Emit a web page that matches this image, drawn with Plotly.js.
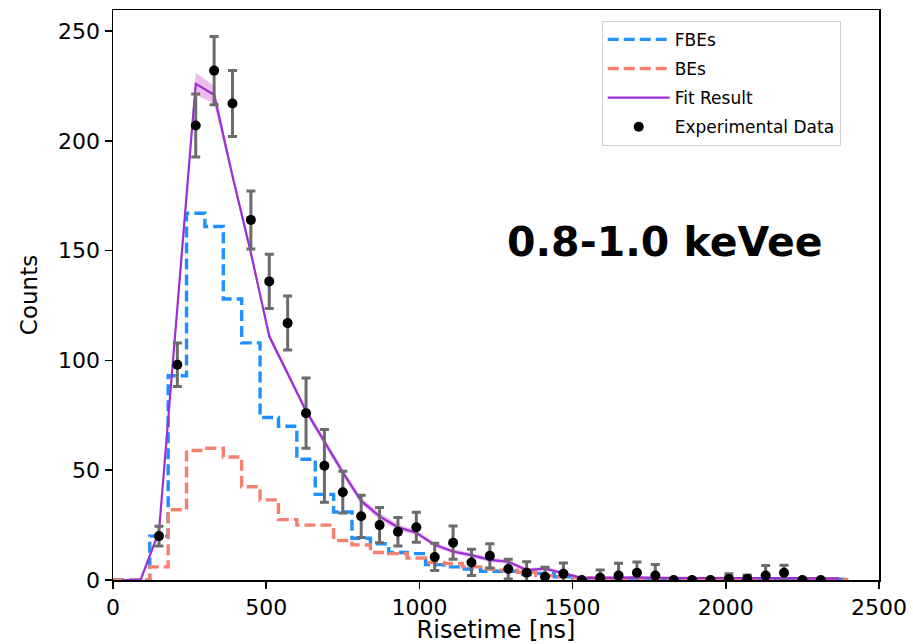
<!DOCTYPE html>
<html><head><meta charset="utf-8">
<script src="https://cdn.plot.ly/plotly-3.0.1.min.js"></script>
<style>html,body{margin:0;padding:0;background:#fff}</style>
</head><body><div id="chart" style="width:913px;height:644px"></div>
<script>
// histogram bin edges (ns)
const binEdges = [0,60,120,180,240,300,360,420,480,540,600,660,720,780,840,900,960,1020,1080,1140,1200,1260,1320,1380,1440,1500,1560,1620,1680,1740,1800,1860,1920,1980,2040,2100,2160,2220,2280,2340,2400];
// bin centres (ns)
const binCenters = [30,90,150,210,270,330,390,450,510,570,630,690,750,810,870,930,990,1050,1110,1170,1230,1290,1350,1410,1470,1530,1590,1650,1710,1770,1830,1890,1950,2010,2070,2130,2190,2250,2310,2370];
// FBEs template counts per bin
const fbeCounts = [0,0,20,93,167,161,128,108,74,70,55,39,31,19,16.5,12.5,12,7,6,5,4,4,2.5,3,1.5,0.5,0.5,0.6,0.6,0.5,0.4,0.4,0.4,0.5,0.5,0.5,0.5,0.4,0.4,0.4];
// BEs template counts per bin
const beCounts = [0,0,6,32,59,60,56,42.5,36.5,27.5,25,25,18,16,12.5,12,10,8,7.5,6,5,4.5,3.5,2,1.5,1,0.8,0.6,0.6,0.5,0.5,0.4,0.4,0.4,0.4,0.4,0.4,0.3,0.3,0.3];
// fit result at bin centres and its uncertainty half-width
const fitValues = [0,0,22,125,226,221,184,149,111,94,77,63,49,36,29,24,21.5,16,13,11.3,9.2,8.3,4.5,5.2,3,1,1,1.2,1.2,1,0.9,0.8,0.8,0.9,0.9,0.9,0.9,0.7,0.7,0.7];
const fitBand = [0,0,1,2.5,5,4,2,2,1.5,1.5,1.5,1.5,1.5,1.5,1.5,1.5,1,1,1,1,1,1,0.8,0.8,0.6,0.5,0.5,0.5,0.5,0.5,0.4,0.4,0.4,0.4,0.4,0.4,0.4,0.4,0.4,0.4];
// experimental data
const dataX = [150,210,270,330,390,450,510,570,630,690,750,810,870,930,990,1050,1110,1170,1230,1290,1350,1410,1470,1530,1590,1650,1710,1770,1830,1890,1950,2010,2070,2130,2190,2250,2310];
const dataY = [20,98,207,232,217,164,136,117,76,52,40,29,25,22,24,10.5,17,8,11,5,3.3,1.5,2.9,0,1,2,3.3,2,0,0,0,0.5,0.5,2,3.3,0,0];
const dataErr = [4.5,9.9,14.4,15.5,15,13.2,12.4,12.3,16,16.6,9.5,9.6,8,6.5,6.8,6.2,7.6,6,5.5,4.5,5,4.3,4.8,0,3.5,5.6,4.9,5.1,0,0,0,2.4,1.8,4.6,3.4,0,0];
const xTicks = [0,500,1000,1500,2000,2500];
const yTicks = [0,50,100,150,200,250];

const stepY = arr => arr.concat([arr[arr.length-1]]);
const fitHi = fitValues.map((v,i)=>v+fitBand[i]);
const fitLo = fitValues.map((v,i)=>Math.max(0,v-fitBand[i]));

const traces = [
  {x: binEdges, y: stepY(fbeCounts), type:'scatter', mode:'lines', name:'FBEs', legendgroup:'a',
   line:{shape:'hv', color:'#1e90ff', width:3.4, dash:'11px,5px'}},
  {x: binEdges, y: stepY(beCounts), type:'scatter', mode:'lines', name:'BEs', legendgroup:'b',
   line:{shape:'hv', color:'#f5806f', width:3.4, dash:'11px,5px'}},
  {x: binCenters, y: fitLo, type:'scatter', mode:'lines', showlegend:false, hoverinfo:'skip', legendgroup:'c',
   line:{width:0, color:'rgba(0,0,0,0)'}},
  {x: binCenters, y: fitHi, type:'scatter', mode:'lines', showlegend:false, hoverinfo:'skip', legendgroup:'c',
   fill:'tonexty', fillcolor:'rgba(224,120,230,0.5)', line:{width:0, color:'rgba(0,0,0,0)'}},
  {x: binCenters, y: fitValues, type:'scatter', mode:'lines', name:'Fit Result', legendgroup:'c',
   line:{color:'#9b2fd6', width:2.2}},
  {x: dataX, y: dataY, type:'scatter', mode:'markers', name:'Experimental Data', legendgroup:'d',
   marker:{color:'#000', size:10},
   error_y:{type:'data', array: dataErr, visible:true, color:'#6b6b6b', thickness:3, width:4.5}}
];

const layout = {
  width:913, height:644,
  paper_bgcolor:'#fff', plot_bgcolor:'#fff',
  margin:{l:113, r:34, t:10, b:64},
  font:{family:'DejaVu Sans', size:22, color:'#000'},
  xaxis:{range:[0,2500], tickvals:xTicks, ticks:'outside', ticklen:7, tickwidth:1.5, tickcolor:'#000',
    showline:true, mirror:true, linecolor:'#000', linewidth:1.5, showgrid:false, zeroline:false,
    tickfont:{family:'DejaVu Sans', size:22, color:'#000'},
    title:{text:'Risetime [ns]', font:{family:'DejaVu Sans', size:24, color:'#000'}, standoff:4}},
  yaxis:{range:[0,259.6], tickvals:yTicks, ticks:'outside', ticklen:7, tickwidth:1.5, tickcolor:'#000',
    showline:true, mirror:true, linecolor:'#000', linewidth:1.5, showgrid:false, zeroline:false,
    tickfont:{family:'DejaVu Sans', size:22, color:'#000'},
    title:{text:'Counts', font:{family:'DejaVu Sans', size:23, color:'#000'}, standoff:14}},
  legend:{x:0.638, y:0.981, xanchor:'left', yanchor:'top', bgcolor:'#fff', bordercolor:'#d0d0d0', borderwidth:1,
    font:{family:'DejaVu Sans', size:17, color:'#000'}, tracegroupgap:4, itemwidth:62},
  annotations:[{x:1800, y:154, xref:'x', yref:'y', text:'<b>0.8-1.0 keVee</b>', showarrow:false,
    font:{family:'DejaVu Sans', size:41, color:'#000'}}]
};
Plotly.newPlot('chart', traces, layout, {displayModeBar:false, staticPlot:true});
</script></body></html>
